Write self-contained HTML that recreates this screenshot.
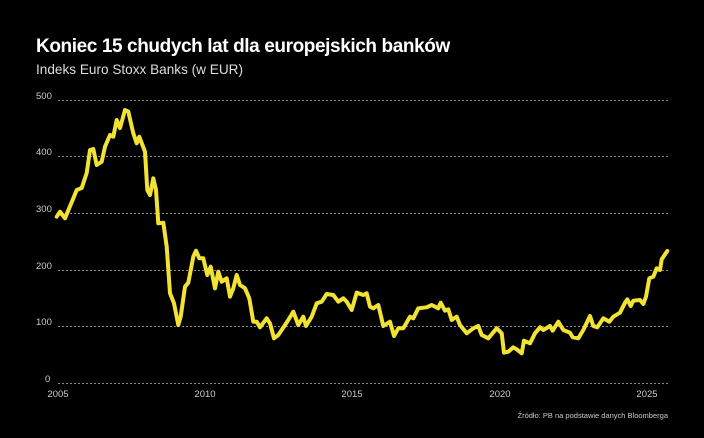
<!DOCTYPE html>
<html><head><meta charset="utf-8"><style>
body{margin:0;background:#000;width:704px;height:433px;overflow:hidden;font-family:"Liberation Sans",sans-serif}
</style></head><body>
<svg width="704" height="433" xmlns="http://www.w3.org/2000/svg">
<rect width="704" height="433" fill="#000"/>
<text x="36" y="52" fill="#fff" font-size="19" font-weight="bold" letter-spacing="-0.4">Koniec 15 chudych lat dla europejskich banków</text>
<text x="36" y="74" fill="#ddd" font-size="13.6">Indeks Euro Stoxx Banks (w EUR)</text>
<g stroke="#888" stroke-dasharray="2,2" stroke-width="1">
<line x1="58" x2="668" y1="100.5" y2="100.5"/>
<line x1="58" x2="668" y1="156.5" y2="156.5"/>
<line x1="58" x2="668" y1="213.5" y2="213.5"/>
<line x1="58" x2="668" y1="270.5" y2="270.5"/>
<line x1="58" x2="668" y1="326.5" y2="326.5"/>
<line x1="58" x2="668" y1="383.5" y2="383.5"/>
</g>
<g fill="#ccc" font-size="9.5">
<text x="36" y="99">500</text><text x="36" y="155">400</text><text x="36" y="212">300</text>
<text x="36" y="269">200</text><text x="36" y="325">100</text><text x="45" y="382">0</text>
<text x="58" y="397" text-anchor="middle">2005</text>
<text x="205" y="397" text-anchor="middle">2010</text>
<text x="352" y="397" text-anchor="middle">2015</text>
<text x="500" y="397" text-anchor="middle">2020</text>
<text x="647" y="397" text-anchor="middle">2025</text>
</g>
<text x="668" y="418" fill="#ccc" font-size="7.5" text-anchor="end">Źródło: PB na podstawie danych Bloomberga</text>
<polyline fill="none" stroke="#f2e234" stroke-width="4" stroke-linejoin="round" stroke-linecap="round" points="
56.7,216.7 60,211.7 65,218.3 73.3,198.3 76.7,190 81.7,188 86.7,173 90,150 93.3,149 96.7,165 101.7,161.7 105,146.7 110,135 113.3,136.7 116.7,120 120,128 125,110 128.3,111.7 133.3,133.3 136.7,143.3 139.3,136.7 145,151.7 147.3,190 150,195 153.3,178.3 156,190 158.3,223.3 163.3,222.7 166.7,246.7 170,293.3 174,303.3 178.3,325 180.7,316.7 185,286.7 188.3,282.7 193.3,256.7 196,250.7 199.3,258.3 203.3,258.3 207.3,275 210.7,266.7 215,288.3 218.3,271.7 221.7,281.7 226.7,278.3 230,296.7 233.3,288.3 236.7,275 240,285 245,288.3 249.3,298.3 253.3,321.7 256.7,321.7 260,327.3 266.7,318.3 270,323.3 274,338.3 278.3,335 281.7,330 288.3,320 293.3,311.7 298.3,325 303.3,316.7 306,326 311.7,316.7 316.7,303.3 321.7,301.7 326.7,294 333.3,295 338.3,301.7 343.3,298.3 346.7,301.7 351.7,310 356.7,292.7 363.3,295 366.7,293.3 370,306.7 373.3,308.3 378.3,305 383.3,326 390,321.7 394,336 398.3,328.3 403.3,328.3 410,316.7 413.3,318.3 418.3,308.3 426.7,307.3 431.7,305 438.3,308.3 440.7,302.7 445,310.7 448.3,309.3 451.7,320 456.7,316.7 460,325 466.7,333.3 473.3,328.3 478.3,326 481.7,335 488.3,338.3 496.7,328.3 501.7,333.3 504,352.7 508.3,351.7 513.3,347.3 516.7,349.3 521.7,353.3 524,340.7 530,343.3 535,333.3 540,327.3 543.3,330 550,326 552.7,330.7 558.3,321.7 563.3,330 570,332.7 572.7,337.3 578.3,338.3 583.3,330 590,316 593.3,326 597.3,327.3 603.3,318.3 609.3,321.7 613.3,316.7 620,312.7 625,302.7 627.3,299.3 630.7,306 633.3,300.7 640,300 643.3,304 646,296.7 649.3,278.3 653.3,276.7 656.7,268.3 660,270 661.7,259.3 667.3,251"/>
</svg>
</body></html>
